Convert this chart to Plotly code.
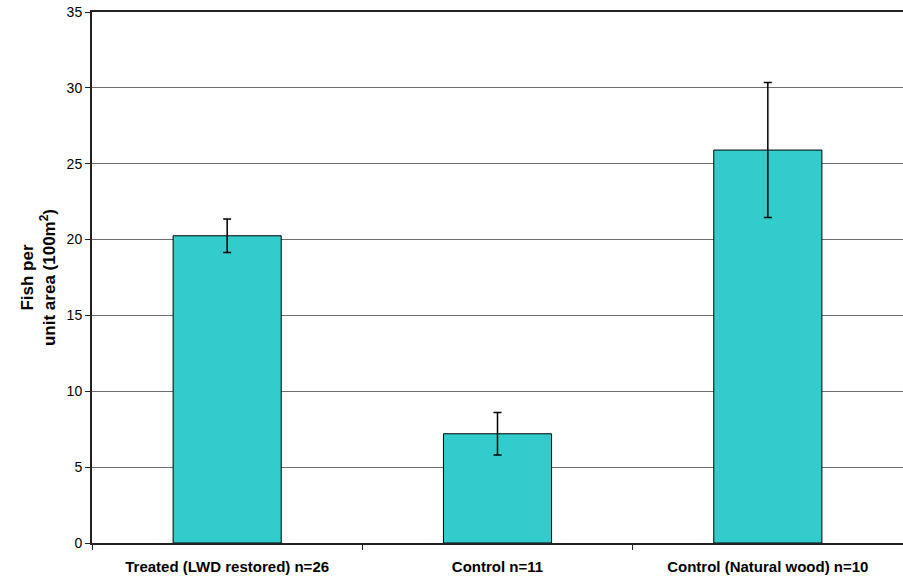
import plotly.graph_objects as go

categories = ["Treated (LWD restored) n=26", "Control n=11", "Control (Natural wood) n=10"]
means = [20.25, 7.2, 25.9]
errors = [1.1, 1.4, 4.45]
y_ticks = [0, 5, 10, 15, 20, 25, 30, 35]

fig = go.Figure()
fig.add_trace(go.Bar(
    x=categories, y=means,
    marker=dict(color="#33CCCC", line=dict(color="black", width=1)),
    error_y=dict(type="data", array=errors, visible=True, color="black", thickness=1.5, width=4),
    showlegend=False,
))

font = "Liberation Sans, Arial, sans-serif"
fig.update_layout(
    width=903, height=583,
    margin=dict(l=92, r=0, t=12, b=40),
    plot_bgcolor="white", paper_bgcolor="white",
    bargap=0.6,
    font=dict(family=font, color="black", size=14),
    xaxis=dict(
        automargin=False,
        showline=True, linecolor="#222222", linewidth=2, mirror=True,
        ticks="outside", tickson="boundaries", ticklen=5, tickcolor="#222222",
        ticklabelstandoff=9,
        tickfont=dict(size=15, family=font, weight="bold"),
        showgrid=False,
    ),
    yaxis=dict(
        automargin=False,
        range=[0, 35], tickvals=y_ticks,
        showline=True, linecolor="#222222", linewidth=2,
        ticks="outside", ticklen=5, tickcolor="#222222",
        showgrid=True, gridcolor="#707070", gridwidth=1,
        zeroline=False,
        tickfont=dict(size=14, family=font),
        title=dict(text="<b>Fish per<br>unit area (100m<sup>2</sup>)</b>", font=dict(size=17, family=font), standoff=7),
    ),
)

fig.write_html("out.html", config={"displayModeBar": False},
               post_script="document.body.style.margin='0';document.body.style.overflow='hidden';")
